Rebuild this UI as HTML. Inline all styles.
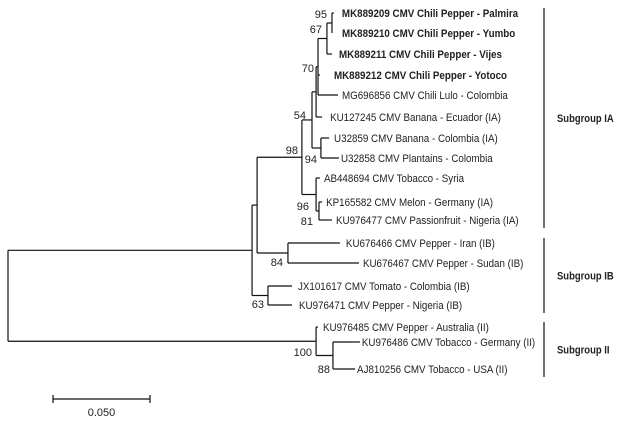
<!DOCTYPE html>
<html><head><meta charset="utf-8"><style>
html,body{margin:0;padding:0;background:#fff;}
svg{display:block;font-family:"Liberation Sans",sans-serif;}
</style></head><body>
<svg id="tree" width="620" height="421" viewBox="0 0 620 421" xmlns="http://www.w3.org/2000/svg"></svg>
<script>
// ---- data ----
const leafNames = [
 "MK889209 CMV Chili Pepper - Palmira","MK889210 CMV Chili Pepper - Yumbo","MK889211 CMV Chili Pepper - Vijes","MK889212 CMV Chili Pepper - Yotoco",
 "MG696856 CMV Chili Lulo - Colombia","KU127245 CMV Banana - Ecuador (IA)","U32859 CMV Banana - Colombia (IA)","U32858 CMV Plantains - Colombia",
 "AB448694 CMV Tobacco - Syria","KP165582 CMV Melon - Germany (IA)","KU976477 CMV Passionfruit - Nigeria (IA)",
 "KU676466 CMV Pepper - Iran (IB)","KU676467 CMV Pepper - Sudan (IB)","JX101617 CMV Tomato - Colombia (IB)","KU976471 CMV Pepper - Nigeria (IB)",
 "KU976485 CMV Pepper - Australia (II)","KU976486 CMV Tobacco - Germany (II)","AJ810256 CMV Tobacco - USA (II)"];
const leafBold = [1,1,1,1,0,0,0,0,0,0,0,0,0,0,0,0,0,0];
// cumulative distance from root (substitutions/site)
const leafDepth = [0.1680,0.1670,0.1670,0.1608,0.1701,0.1619,0.1655,0.1706,0.1608,0.1619,0.1670,0.1711,0.1809,0.1464,0.1464,0.1598,0.1814,0.1789];
// internal nodes
const nodeIds = ["n95","n67","n70","n54","n94","nA1","n96","nA2","n98","n84","nX","n63","nY","n88","n100","root"];
const nodeChildren = [["L0","L1"],["n95","L2"],["n67","L3","L4"],["n70","L5"],["L6","L7"],["n54","n94"],["L9","L10"],["L8","n96"],["nA1","nA2"],["L11","L12"],["n98","n84"],["L13","L14"],["nX","n63"],["L16","L17"],["L15","n88"],["nY","n100"]];
const nodeDepth = [0.1670,0.1644,0.1598,0.1588,0.1613,0.1567,0.1603,0.1588,0.1515,0.1443,0.1284,0.1340,0.1258,0.1675,0.1588,0];
const bootNodes = ["n95","n67","n70","n54","n98","n94","n96","n96","n84","n63","n100","n88"];
const bootValues = ["95","67","70","54","98","94","96","81","84","63","100","88"];
const groupNames = ["Subgroup IA","Subgroup IB","Subgroup II"];
const groupRanges = [[0,10],[11,14],[15,17]];
const scaleValue = 0.05;
// ---- layout ----
const leafY = [13,33,54,75,95,117,138,158,178,202,220,243,263,286,305,327,342,369];
const labelGap = [8,10,7,14,4,8,5,2,4,4,4,6,4,6,7,5,2,2];
const bootPos = [[327,14],[322,29],[314,68],[306,115],[298,150],[317,159],[309,206],[313,221],[283,262],[264,304],[312,352],[330,369]];
const x = d => 8 + d*1940;
const svg = document.getElementById('tree');
const NS = "http://www.w3.org/2000/svg";
function mk(tag, attrs){const e=document.createElementNS(NS,tag);for(const k in attrs)e.setAttribute(k,attrs[k]);svg.appendChild(e);return e;}
function line(x1,y1,x2,y2){return mk('line',{x1,y1,x2,y2,stroke:'#111','stroke-width':1.2});}
const pos = {};
leafNames.forEach((n,i)=>{pos['L'+i]={x:x(leafDepth[i]),y:leafY[i]};});
nodeIds.forEach((id,i)=>{
  const ch = nodeChildren[i].map(c=>pos[c]);
  const y = (ch[0].y + ch[ch.length-1].y)/2;
  const nx = x(nodeDepth[i]);
  pos[id]={x:nx,y};
  const v=line(nx,ch[0].y,nx,ch[ch.length-1].y);
  
  
  ch.forEach((c,j)=>{
    const h=line(nx,c.y,c.x,c.y);
    
    
  });
});
leafNames.forEach((n,i)=>{
  const p=pos['L'+i];
  const tx=p.x+labelGap[i];
  const t=mk('text',{x:tx,y:p.y+4,'font-size':11,fill:'#222'});
  if(leafBold[i]) t.setAttribute('font-weight','bold');
  t.textContent=n;
  
  
  t.setAttribute('transform','translate('+tx+',0) scale(0.89,1) translate('+(-tx)+',0)');
});
bootValues.forEach((v,i)=>{
  const t=mk('text',{x:bootPos[i][0],y:bootPos[i][1]+4,'font-size':11,fill:'#222','text-anchor':'end'});
  t.textContent=v;
  
  
});
groupNames.forEach((g,i)=>{
  const y1=leafY[groupRanges[i][0]]-5, y2=leafY[groupRanges[i][1]]+8;
  const l=line(544,y1,544,y2);
  
  
  const t=mk('text',{x:557,y:(y1+y2)/2+4,'font-size':11,'font-weight':'bold',fill:'#222'});
  t.textContent=g;
  t.setAttribute('transform','translate(557,0) scale(0.86,1) translate(-557,0)');
  
  
});
const sx1=53, sx2=53+scaleValue*1940;
const sb=line(sx1,399,sx2,399);


line(sx1,395,sx1,403);line(sx2,395,sx2,403);
const st=mk('text',{x:(sx1+sx2)/2,y:416,'font-size':11,fill:'#222','text-anchor':'middle'});
st.textContent=scaleValue.toFixed(3);


</script>
</body></html>
